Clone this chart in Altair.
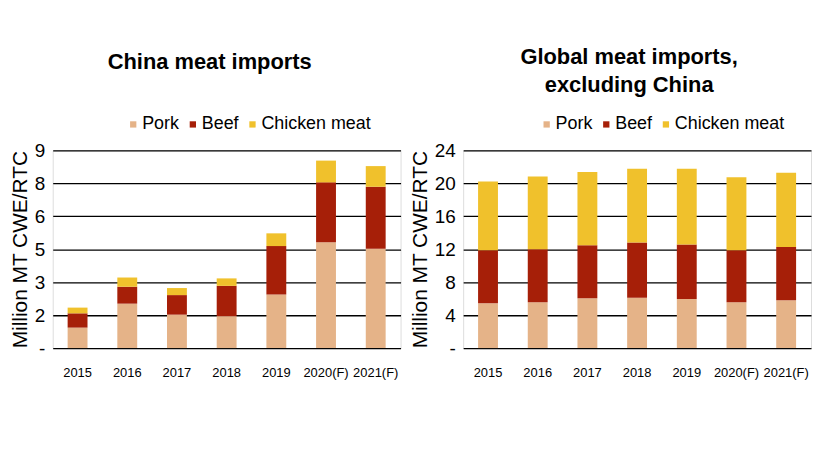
import altair as alt
import pandas as pd

years = ["2015", "2016", "2017", "2018", "2019", "2020(F)", "2021(F)"]
meats = ["Pork", "Beef", "Chicken meat"]
colors = ["#E5B388", "#A61F08", "#F0C12C"]

china_pork = [0.93, 2.02, 1.52, 1.45, 2.44, 4.81, 4.52]
china_beef = [0.65, 0.77, 0.89, 1.38, 2.20, 2.73, 2.82]
china_chicken = [0.26, 0.42, 0.32, 0.34, 0.58, 0.99, 0.94]

global_pork = [5.43, 5.55, 6.03, 6.11, 5.95, 5.55, 5.79]
global_beef = [6.43, 6.43, 6.43, 6.71, 6.63, 6.31, 6.47]
global_chicken = [8.36, 8.84, 8.89, 8.93, 9.17, 8.88, 9.01]

china_ticks = [0, 1.5, 3, 4.5, 6, 7.5, 9]
global_ticks = [0, 4, 8, 12, 16, 20, 24]

FONT = "Liberation Sans"


def long_df(pork, beef, chicken):
    rows = []
    for i, y in enumerate(years):
        for k, (m, v) in enumerate(zip(meats, [pork[i], beef[i], chicken[i]])):
            rows.append({"year": y, "meat": m, "value": v, "order": k})
    return pd.DataFrame(rows)


def panel(df, ticks, title, title_offset, title_dx, legend_x):
    return (
        alt.Chart(df)
        .mark_bar()
        .encode(
            x=alt.X(
                "year:N",
                sort=years,
                scale=alt.Scale(paddingInner=0.6, paddingOuter=0.3),
                axis=alt.Axis(
                    title=None,
                    labelAngle=0,
                    labelFontSize=13,
                    labelFont=FONT,
                    labelColor="black",
                    ticks=False,
                    domain=False,
                    labelPadding=19,
                ),
            ),
            y=alt.Y(
                "value:Q",
                stack="zero",
                scale=alt.Scale(domain=[ticks[0], ticks[-1]], nice=False),
                axis=alt.Axis(
                    title="Million MT CWE/RTC",
                    titleFontSize=21,
                    titleFont=FONT,
                    titleFontWeight="normal",
                    titleColor="black",
                    titlePadding=4,
                    values=ticks,
                    labelExpr="datum.value == 0 ? '-' : format(datum.value, '.0f')",
                    labelFontSize=19,
                    labelFont=FONT,
                    labelColor="black",
                    labelPadding=8,
                    ticks=False,
                    domain=False,
                    grid=True,
                    gridColor="black",
                    gridWidth=1.3,
                ),
            ),
            color=alt.Color(
                "meat:N",
                sort=meats,
                scale=alt.Scale(domain=meats, range=colors),
                legend=alt.Legend(
                    title=None,
                    orient="none",
                    direction="horizontal",
                    legendX=legend_x,
                    legendY=-35,
                    symbolType="square",
                    symbolSize=40,
                    symbolStrokeWidth=0,
                    labelFontSize=18,
                    labelFont=FONT,
                    labelColor="black",
                    labelOffset=0,
                    columnPadding=4,
                    padding=0,
                ),
            ),
            order=alt.Order("order:Q"),
        )
        .properties(
            width=350,
            height=199,
            title=alt.TitleParams(
                text=title,
                fontSize=22,
                fontWeight="bold",
                font=FONT,
                color="black",
                anchor="middle",
                frame="group",
                offset=title_offset,
                dx=title_dx,
                lineHeight=28,
            ),
        )
    )


left = panel(long_df(china_pork, china_beef, china_chicken), china_ticks,
             "China meat imports", 42, -17, 72)
right = panel(long_df(global_pork, global_beef, global_chicken), global_ticks,
              ["Global meat imports,", "excluding China"], 19, -8, 75)

chart = (
    alt.hconcat(left, right, spacing=7)
    .resolve_scale(color="independent", y="independent")
    .properties(padding={"left": 0, "top": 36, "right": 0, "bottom": 0})
    .configure_view(stroke="black", strokeWidth=1.5)
    .configure(background="white")
)

chart.save("out.html", embed_options={"renderer": "svg", "actions": False})
